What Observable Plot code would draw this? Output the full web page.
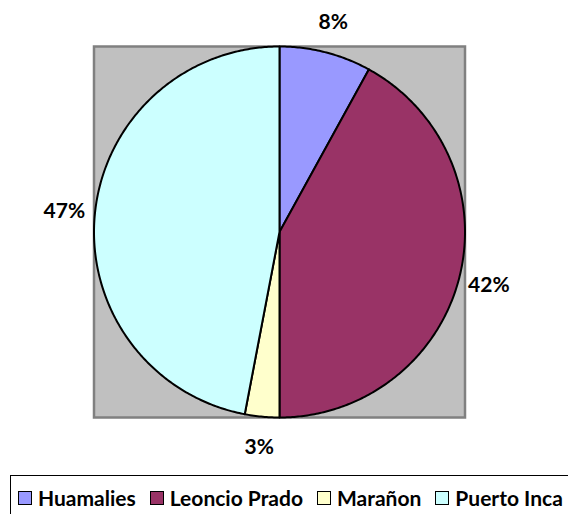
<!DOCTYPE html>
<html>
<head>
<meta charset="utf-8">
<script src="https://cdn.jsdelivr.net/npm/d3@7"></script>
<script src="https://cdn.jsdelivr.net/npm/@observablehq/plot@0.6"></script>
<style>
  html, body { margin: 0; padding: 0; background: #fff; overflow: hidden; }
  body { width: 568px; height: 514px; position: relative; font-family: Lato, "Open Sans", sans-serif; }
  #chart { position: absolute; left: 0; top: 0; }
  #legend {
    position: absolute; left: 10px; top: 475px; width: 620px; height: 70px;
    border: 1.5px solid #000; box-sizing: border-box;
    display: flex; align-items: flex-start; padding: 9px 0 0 7px;
    font-weight: 700; font-size: 21px; color: #000;
  }
  .item { display: flex; align-items: center; margin-right: 14px; white-space: nowrap; line-height: 25px; }
  .sw { width: 12px; height: 12px; border: 1.8px solid #000; margin-right: 6px; }
</style>
</head>
<body>
<div id="chart"></div>
<div id="legend"></div>
<script>
const categories = ["Huamalies", "Leoncio Prado", "Marañon", "Puerto Inca"];
const values = [8, 42, 3, 47];
const labels = ["8%", "42%", "3%", "47%"];
const colors = ["#9999FF", "#993366", "#FFFFCC", "#CCFFFF"];

const data = categories.map((name, i) => ({name, value: values[i], label: labels[i]}));
const arcs = d3.pie().sort(null).value(d => d.value).startAngle(0).endAngle(2 * Math.PI)(data);

// polygon outline for each slice (center -> arc -> center), unit radius
const slicePts = [];
arcs.forEach(a => {
  const n = Math.max(4, Math.ceil((a.endAngle - a.startAngle) / 0.01));
  slicePts.push({name: a.data.name, x: 0, y: 0});
  for (let k = 0; k <= n; k++) {
    const t = a.startAngle + (a.endAngle - a.startAngle) * k / n;
    slicePts.push({name: a.data.name, x: Math.sin(t), y: Math.cos(t)});
  }
  slicePts.push({name: a.data.name, x: 0, y: 0});
});

const labelR = 1.165;
const labelPts = arcs.map(a => {
  const m = (a.startAngle + a.endAngle) / 2;
  return {label: a.data.label, x: labelR * Math.sin(m), y: labelR * Math.cos(m)};
});

const chart = Plot.plot({
  width: 568,
  height: 470,
  marginLeft: 93.5,
  marginRight: 103.5,
  marginTop: 46,
  marginBottom: 53,
  x: {domain: [-1, 1], axis: null},
  y: {domain: [-1, 1], axis: null},
  color: {domain: categories, range: colors},
  style: {fontFamily: "Lato, 'Open Sans', sans-serif", background: "transparent", overflow: "visible"},
  marks: [
    Plot.frame({fill: "#C0C0C0", stroke: "#808080", strokeWidth: 2.5}),
    Plot.line(slicePts, {x: "x", y: "y", z: "name", fill: "name", stroke: "#000", strokeWidth: 2, strokeLinejoin: "round"}),
    Plot.text(labelPts, {x: "x", y: "y", text: "label", fontSize: 21, fontWeight: 700, fill: "#000"})
  ]
});
document.getElementById("chart").appendChild(chart);

const legend = document.getElementById("legend");
categories.forEach((c, i) => {
  const item = document.createElement("div");
  item.className = "item";
  const sw = document.createElement("div");
  sw.className = "sw";
  sw.style.background = colors[i];
  const t = document.createElement("span");
  t.textContent = c;
  item.appendChild(sw);
  item.appendChild(t);
  legend.appendChild(item);
});
</script>
</body>
</html>
